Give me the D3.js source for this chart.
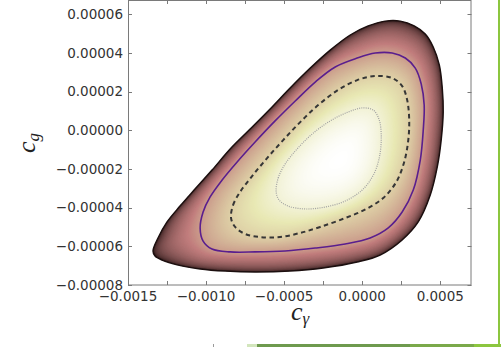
<!DOCTYPE html>
<html>
<head>
<meta charset="utf-8">
<script src="https://cdn.jsdelivr.net/npm/d3@7"></script>
<style>
  html, body { margin: 0; padding: 0; background: #fff; }
  svg { display: block; }
</style>
</head>
<body>
<svg id="chart" width="501" height="347"></svg>
<script>
// ---- axis ranges and ticks -------------------------------------------
const xDomain = [-0.0015, 0.0007];
const yDomain = [-0.00008, 0.0000673];
const xTickValues = [-0.0015, -0.00125, -0.0010, -0.00075, -0.0005, -0.00025, 0.0, 0.00025, 0.0005];
const xTickLabels = ["\u22120.0015", "\u22120.0010", "\u22120.0005", "0.0000", "0.0005"];
const xLabelValues = [-0.0015, -0.0010, -0.0005, 0.0, 0.0005];
const yTickValues = [-0.00008, -0.00006, -0.00004, -0.00002, 0.0, 0.00002, 0.00004, 0.00006];
const yTickLabels = ["\u22120.00008", "\u22120.00006", "\u22120.00004", "\u22120.00002",
                     "0.00000", "0.00002", "0.00004", "0.00006"];

// ---- likelihood contours in (c_gamma, c_g) ---------------------------
// outer edge of the shaded region
const edgeContour = [
  [-13.40e-4, -62.4e-6], [-13.08e-4, -55.7e-6], [-12.50e-4, -47.4e-6], [-11.67e-4, -39.2e-6],
  [-10.71e-4, -30.4e-6], [-9.62e-4, -20.6e-6], [-8.46e-4, -9.7e-6], [-7.18e-4, 0.6e-6],
  [-5.90e-4, 11.0e-6], [-4.62e-4, 21.8e-6], [-3.33e-4, 32.1e-6], [-2.05e-4, 41.4e-6],
  [-0.77e-4, 49.2e-6], [0.38e-4, 53.9e-6], [1.47e-4, 56.4e-6], [2.44e-4, 56.4e-6],
  [3.33e-4, 53.9e-6], [4.04e-4, 49.7e-6], [4.55e-4, 43.0e-6], [4.94e-4, 33.7e-6],
  [5.13e-4, 21.8e-6], [5.19e-4, 9.4e-6], [5.06e-4, -5.1e-6], [4.81e-4, -19.0e-6],
  [4.36e-4, -33.5e-6], [3.59e-4, -47.4e-6], [2.56e-4, -56.7e-6], [1.15e-4, -64.5e-6],
  [-0.32e-4, -68.1e-6], [-2.50e-4, -71.2e-6], [-4.62e-4, -72.8e-6], [-6.86e-4, -73.3e-6],
  [-8.78e-4, -72.8e-6], [-10.38e-4, -71.7e-6], [-11.79e-4, -69.7e-6], [-12.82e-4, -67.1e-6],
  [-13.27e-4, -65.0e-6]
];
// solid purple contour
const solidContour = [
  [-10.38e-4, -50.5e-6], [-10.19e-4, -42.3e-6], [-9.74e-4, -34.5e-6], [-8.97e-4, -25.7e-6],
  [-8.01e-4, -16.4e-6], [-6.86e-4, -6.1e-6], [-5.58e-4, 4.8e-6], [-4.29e-4, 15.1e-6],
  [-3.01e-4, 24.9e-6], [-1.73e-4, 32.7e-6], [-0.32e-4, 37.3e-6], [0.83e-4, 39.9e-6],
  [1.92e-4, 39.9e-6], [2.76e-4, 37.3e-6], [3.40e-4, 32.1e-6], [3.78e-4, 23.9e-6],
  [3.97e-4, 13.0e-6], [3.91e-4, 0.1e-6], [3.72e-4, -15.4e-6], [3.27e-4, -30.9e-6],
  [2.56e-4, -42.3e-6], [1.67e-4, -50.5e-6], [0.51e-4, -55.7e-6], [-1.09e-4, -58.8e-6],
  [-3.01e-4, -60.9e-6], [-4.94e-4, -62.4e-6], [-6.86e-4, -62.9e-6], [-8.46e-4, -62.9e-6],
  [-9.62e-4, -61.4e-6], [-10.19e-4, -57.3e-6]
];
// dashed contour
const dashedContour = [
  [-8.40e-4, -45.4e-6], [-8.27e-4, -38.7e-6], [-7.82e-4, -31.9e-6], [-7.05e-4, -23.7e-6],
  [-6.09e-4, -14.4e-6], [-5.06e-4, -5.1e-6], [-3.97e-4, 4.2e-6], [-2.82e-4, 13.0e-6],
  [-1.54e-4, 20.8e-6], [-0.32e-4, 25.9e-6], [0.83e-4, 28.0e-6], [1.92e-4, 27.0e-6],
  [2.56e-4, 22.8e-6], [2.88e-4, 15.6e-6], [3.01e-4, 5.3e-6], [2.95e-4, -5.1e-6],
  [2.69e-4, -16.4e-6], [2.18e-4, -26.8e-6], [1.35e-4, -35.0e-6], [0.26e-4, -40.7e-6],
  [-1.09e-4, -45.4e-6], [-2.69e-4, -50.0e-6], [-3.97e-4, -53.1e-6], [-5.26e-4, -55.2e-6],
  [-6.54e-4, -55.2e-6], [-7.50e-4, -53.6e-6], [-8.14e-4, -50.0e-6]
];
// dotted contour
const dottedContour = [
  [-5.51e-4, -31.9e-6], [-5.38e-4, -24.7e-6], [-4.94e-4, -17.5e-6], [-4.17e-4, -9.7e-6],
  [-3.21e-4, -2.0e-6], [-2.05e-4, 4.8e-6], [-0.90e-4, 9.4e-6], [0.00e-4, 11.5e-6],
  [0.71e-4, 10.4e-6], [1.09e-4, 5.3e-6], [1.22e-4, -3.5e-6], [1.09e-4, -14.4e-6],
  [0.71e-4, -23.2e-6], [0.00e-4, -30.9e-6], [-1.09e-4, -36.6e-6], [-2.37e-4, -39.7e-6],
  [-3.65e-4, -40.7e-6], [-4.74e-4, -39.2e-6], [-5.32e-4, -36.1e-6]
];
// best-fit point (maximum of the likelihood)
const peakPoint = [-1.41e-4, -15.4e-6];
// colour-map position of edge, solid, dashed, dotted contours and the peak
const shadeLevels = [0.0, 0.45, 0.64, 0.85, 1.0];

// ---- layout ----------------------------------------------------------
const frame = { left: 128, right: 471.5, top: 0, bottom: 285 };
const svg = d3.select("#chart");
const x = d3.scaleLinear().domain(xDomain).range([frame.left, frame.right]);
const y = d3.scaleLinear().domain(yDomain).range([frame.bottom, frame.top]);

// matplotlib-style "pink" colour map
function pink(t) {
  t = Math.max(0, Math.min(1, t));
  const hr = Math.min(1, 0.0416 + t / 0.365079 * (1 - 0.0416));
  const hg = Math.max(0, Math.min(1, (t - 0.365079) / (0.746032 - 0.365079)));
  const hb = Math.max(0, Math.min(1, (t - 0.746032) / (1 - 0.746032)));
  const f = h => Math.round(255 * Math.sqrt((2 * t + h) / 3));
  return `rgb(${f(hr)},${f(hg)},${f(hb)})`;
}

const smoothLine = d3.line()
  .x(d => x(d[0]))
  .y(d => y(d[1]))
  .curve(d3.curveCatmullRomClosed.alpha(0.5));

// sample a smoothed closed contour into a dense pixel polyline
const scratch = svg.append("g").attr("visibility", "hidden");
function densify(points, n) {
  const p = scratch.append("path").attr("d", smoothLine(points)).node();
  const len = p.getTotalLength();
  const out = [];
  for (let i = 0; i < n; i++) {
    const q = p.getPointAtLength(len * i / n);
    out.push([q.x, q.y]);
  }
  p.remove();
  return out;
}

// distance from the peak to a closed polyline, as a function of angle
const NA = 720;
const cx = x(peakPoint[0]), cy = y(peakPoint[1]);
function radial(poly) {
  const r = new Float64Array(NA);
  for (let k = 0; k < NA; k++) {
    const a = 2 * Math.PI * k / NA, dx = Math.cos(a), dy = Math.sin(a);
    let best = 0;
    for (let i = 0; i < poly.length; i++) {
      const p1 = poly[i], p2 = poly[(i + 1) % poly.length];
      const ex = p2[0] - p1[0], ey = p2[1] - p1[1];
      const wx = p1[0] - cx, wy = p1[1] - cy;
      const den = dx * ey - dy * ex;
      if (Math.abs(den) < 1e-12) continue;
      const s = (wx * ey - wy * ex) / den;
      const u = (wx * dy - wy * dx) / den;
      if (s > 0 && u >= -1e-9 && u <= 1 + 1e-9 && s > best) best = s;
    }
    r[k] = best;
  }
  return r;
}

const contours = [edgeContour, solidContour, dashedContour, dottedContour];
const radii = contours.map(c => radial(densify(c, 500)));
radii.push(new Float64Array(NA)); // the peak itself

// shading value inside band b at fraction f (0 = outer side, 1 = inner side)
function shade(b, f) {
  const a = shadeLevels[b], z = shadeLevels[b + 1];
  if (b === 0) return a + (z - a) * Math.pow(f, 0.7);
  if (b === 3) return a + (z - a) * (1 - (1 - f) * (1 - f));
  return a + (z - a) * f;
}

const bandSteps = [100, 40, 40, 50];
const rings = [];
bandSteps.forEach((n, b) => {
  for (let i = 0; i < n; i++) {
    const f = i / n;
    const pts = [];
    for (let k = 0; k < NA; k++) {
      const a = 2 * Math.PI * k / NA;
      const r = radii[b][k] + (radii[b + 1][k] - radii[b][k]) * f;
      pts.push([cx + r * Math.cos(a), cy + r * Math.sin(a)]);
    }
    rings.push({ pts, color: pink(shade(b, f)) });
  }
});

const plot = svg.append("g");
plot.selectAll("path.ring")
  .data(rings)
  .join("path")
  .attr("class", "ring")
  .attr("d", d => "M" + d.pts.map(p => p[0].toFixed(2) + "," + p[1].toFixed(2)).join("L") + "Z")
  .attr("fill", d => d.color)
  .attr("stroke", "none");

// dark rim of the shaded region
plot.append("path")
  .attr("d", smoothLine(edgeContour))
  .attr("fill", "none")
  .attr("stroke", "#1c0f0f")
  .attr("stroke-width", 1.4);

// contour lines
plot.append("path")
  .attr("d", smoothLine(solidContour))
  .attr("fill", "none")
  .attr("stroke", "#5a1e8e")
  .attr("stroke-width", 1.6);

plot.append("path")
  .attr("d", smoothLine(dashedContour))
  .attr("fill", "none")
  .attr("stroke", "#363636")
  .attr("stroke-width", 2)
  .attr("stroke-dasharray", "4.5,3.5");

plot.append("path")
  .attr("d", smoothLine(dottedContour))
  .attr("fill", "none")
  .attr("stroke", "#a0a0a0")
  .attr("stroke-width", 1.2)
  .attr("stroke-dasharray", "1,1.2");

// ---- frame and ticks -------------------------------------------------
const axisColor = "#7a7a7a";
const ax = svg.append("g").attr("stroke", axisColor).attr("stroke-width", 1);
ax.append("rect")
  .attr("x", frame.left + 0.5).attr("y", frame.top + 0.5)
  .attr("width", frame.right - frame.left - 1).attr("height", frame.bottom - frame.top - 0.5)
  .attr("fill", "none");

const tickLen = 4;
xTickValues.forEach(v => {
  const px = Math.round(x(v)) + 0.5;
  ax.append("line").attr("x1", px).attr("x2", px).attr("y1", frame.bottom).attr("y2", frame.bottom - tickLen);
  ax.append("line").attr("x1", px).attr("x2", px).attr("y1", frame.top).attr("y2", frame.top + tickLen);
});
yTickValues.forEach(v => {
  const py = Math.round(y(v)) + 0.5;
  ax.append("line").attr("x1", frame.left).attr("x2", frame.left + tickLen).attr("y1", py).attr("y2", py);
  ax.append("line").attr("x1", frame.right).attr("x2", frame.right - tickLen).attr("y1", py).attr("y2", py);
});

const labelFont = "'DejaVu Sans', sans-serif";
svg.append("g")
  .selectAll("text")
  .data(xLabelValues)
  .join("text")
  .attr("x", d => x(d))
  .attr("y", 300.5)
  .attr("text-anchor", "middle")
  .attr("font-family", labelFont)
  .attr("font-size", 13.5)
  .attr("fill", "#333")
  .text((d, i) => xTickLabels[i]);

svg.append("g")
  .selectAll("text")
  .data(yTickValues)
  .join("text")
  .attr("x", 123)
  .attr("y", d => y(d))
  .attr("dy", "0.36em")
  .attr("text-anchor", "end")
  .attr("font-family", labelFont)
  .attr("font-size", 13.5)
  .attr("fill", "#333")
  .text((d, i) => yTickLabels[i]);

// axis titles
const titleFont = "'Liberation Serif', 'Times New Roman', serif";
const xt = svg.append("text")
  .attr("x", 300).attr("y", 320)
  .attr("text-anchor", "middle")
  .attr("font-family", titleFont)
  .attr("font-style", "italic")
  .attr("font-size", 26)
  .attr("fill", "#222");
xt.append("tspan").text("c");
xt.append("tspan").attr("font-size", 17).attr("dy", 4).text("\u03b3");

const yt = svg.append("text")
  .attr("transform", "translate(35,143) rotate(-90)")
  .attr("text-anchor", "middle")
  .attr("font-family", titleFont)
  .attr("font-style", "italic")
  .attr("font-size", 26)
  .attr("fill", "#222");
yt.append("tspan").text("c");
yt.append("tspan").attr("font-size", 17).attr("dy", 4).text("g");

// ---- page trim -------------------------------------------------------
const trim = svg.append("g");
trim.append("rect").attr("x", 498).attr("y", 0).attr("width", 2).attr("height", 347).attr("fill", "#8cc63f");
trim.append("rect").attr("x", 247).attr("y", 344).attr("width", 10).attr("height", 3).attr("fill", "#d3e6bd");
trim.append("rect").attr("x", 257).attr("y", 344).attr("width", 153).attr("height", 3).attr("fill", "#6e9a4e");
trim.append("rect").attr("x", 410).attr("y", 344).attr("width", 64).attr("height", 3).attr("fill", "#7aa94a");
trim.append("rect").attr("x", 474).attr("y", 344).attr("width", 27).attr("height", 3).attr("fill", "#8cc63f");
trim.append("rect").attr("x", 213).attr("y", 344).attr("width", 1).attr("height", 3).attr("fill", "#9a9a9a");
</script>
</body>
</html>
